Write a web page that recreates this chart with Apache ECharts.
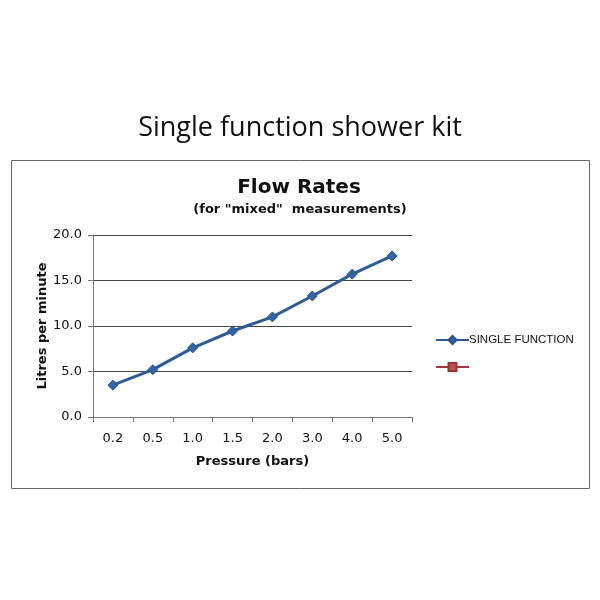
<!DOCTYPE html>
<html>
<head>
<meta charset="utf-8">
<script src="https://cdn.jsdelivr.net/npm/echarts@6/dist/echarts.min.js"></script>
<style>html,body{margin:0;padding:0;background:#fff;}#c{width:600px;height:600px;}</style>
</head>
<body>
<div id="c"></div>
<script>
var pressures = ['0.2', '0.5', '1.0', '1.5', '2.0', '3.0', '4.0', '5.0'];
var singleFunction = [3.5, 5.2, 7.6, 9.45, 11.0, 13.3, 15.7, 17.7];
var secondSeries = [];
var yTicks = [0, 5, 10, 15, 20];

var chart = echarts.init(document.getElementById('c'), null, {renderer: 'canvas'});
chart.setOption({
  backgroundColor: '#fff',
  animation: false,
  title: [
    {text: 'Single function shower kit', left: 'center', top: 115, padding: 0,
     textStyle: {fontFamily: 'Open Sans', fontWeight: 'normal', fontSize: 27, color: '#111'}},
    {text: 'Flow Rates', left: 299, textAlign: 'center', top: 178, padding: 0,
     textStyle: {fontFamily: 'DejaVu Sans', fontWeight: 'bold', fontSize: 20, color: '#111'}},
    {text: '(for "mixed"  measurements)', left: 300, textAlign: 'center', top: 203, padding: 0,
     textStyle: {fontFamily: 'DejaVu Sans', fontWeight: 'bold', fontSize: 13, color: '#111'}}
  ],
  graphic: [
    {type: 'rect', shape: {x: 11.5, y: 160.5, width: 578, height: 328}, style: {fill: 'none', stroke: '#666', lineWidth: 1}, z: -1}
  ],
  legend: {
    orient: 'vertical', left: 435, top: 334, padding: 0, itemGap: 15, itemWidth: 33, itemHeight: 10,
    textStyle: {fontFamily: 'Liberation Sans', fontSize: 11.5, color: '#111', padding: [0,0,0,-5]},
    data: ['SINGLE FUNCTION', ' ']
  },
  grid: {left: 93, right: 188, top: 235, bottom: 183, containLabel: false},
  xAxis: {
    type: 'category', data: pressures, boundaryGap: true,
    name: 'Pressure (bars)', nameLocation: 'middle', nameGap: 38,
    nameTextStyle: {fontFamily: 'DejaVu Sans', fontWeight: 'bold', fontSize: 13, color: '#111'},
    axisLine: {lineStyle: {color: '#777', width: 1}},
    axisTick: {show: true, length: 5, lineStyle: {color: '#777'}},
    axisLabel: {fontFamily: 'DejaVu Sans', fontSize: 13, color: '#111', margin: 15}
  },
  yAxis: {
    type: 'value', min: 0, max: 20, interval: 5,
    name: 'Litres per minute', nameLocation: 'middle', nameGap: 44, nameRotate: 90,
    nameMoveOverlap: false,
    nameTextStyle: {fontFamily: 'DejaVu Sans', fontWeight: 'bold', fontSize: 13, color: '#111'},
    axisLine: {show: true, lineStyle: {color: '#777', width: 1}},
    axisTick: {show: true, length: 5, lineStyle: {color: '#777'}},
    axisLabel: {fontFamily: 'DejaVu Sans', fontSize: 13, color: '#111', margin: 11,
      formatter: function (v) { return v.toFixed(1); }},
    splitLine: {show: true, lineStyle: {color: '#444', width: 1}}
  },
  series: [
    {name: 'SINGLE FUNCTION', type: 'line', data: singleFunction,
     symbol: 'diamond', symbolSize: 10,
     lineStyle: {color: '#2E5C94', width: 3},
     itemStyle: {color: '#3465A4', borderColor: '#2A5287', borderWidth: 1}},
    {name: ' ', type: 'line', data: secondSeries,
     symbol: 'rect', symbolSize: 8,
     lineStyle: {color: '#A0383A', width: 3},
     itemStyle: {color: '#C0504D', borderColor: '#993333', borderWidth: 1}}
  ]
});
</script>
</body>
</html>
